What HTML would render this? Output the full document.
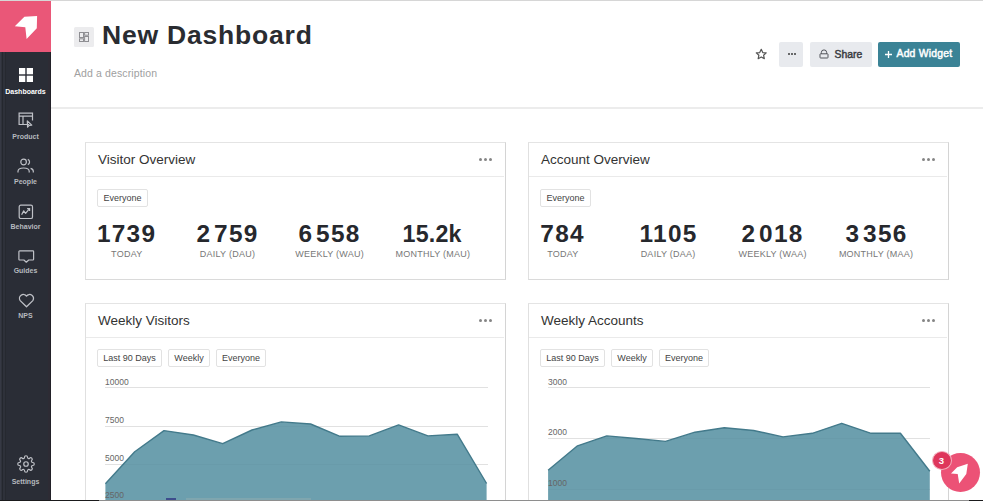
<!DOCTYPE html>
<html><head><meta charset="utf-8">
<style>
*{box-sizing:border-box;margin:0;padding:0}
html,body{width:983px;height:501px;overflow:hidden;background:#fff;font-family:"Liberation Sans",sans-serif;color:#333}
.abs{position:absolute}
#topline{position:absolute;left:0;top:0;width:983px;height:1px;background:#d6d6d6;z-index:5}
#botline{position:absolute;left:0;top:500px;width:983px;height:1px;background:linear-gradient(to right,#1a1a1c 0,#1a1a1c 99px,#8e8e8e 99px,#8e8e8e 969px,#1a1a1c 969px);z-index:20}
#side{position:absolute;left:0;top:0;width:51px;height:501px;background:linear-gradient(to right,#363944 0,#363944 1px,#2f323b 1px,#2f323b 2px,#24272e 2px,#24272e 3px,#2e313a 3px,#2e313a 5px,#262930 5px,#262930 6.5px,#2a2d36 6.5px,#2a2d36 48px,#2d2b34 48px,#2d2b34 50px,#222128 50px,#222128 51px)}
#logo{position:absolute;left:0;top:1px;width:51px;height:51px;background:#ea5778}
.nl{position:absolute;left:0;width:51px;text-align:center;font-size:7px;font-weight:bold;line-height:8px;color:#b6b9bf}
.nav{position:absolute;left:0;width:51px;text-align:center;font-size:7px;color:#b9bcc4;letter-spacing:0}
.nav svg{position:absolute}
.nav span{position:absolute;left:0;width:51px;text-align:center}
#hdr{position:absolute;left:51px;top:0;width:932px;height:109px;border-bottom:2px solid #ececec}
.title{position:absolute;left:102px;top:19.5px;font-size:26.5px;font-weight:bold;color:#2a2c31;letter-spacing:0.8px;white-space:nowrap}
.desc{position:absolute;left:74px;top:67.3px;font-size:10.5px;color:#a0a0a0;letter-spacing:0.12px;white-space:nowrap}
.btn{position:absolute;top:41.5px;height:25px;border-radius:2px}
.card{position:absolute;background:#fff;border:1px solid;border-color:#e4e4e4 #d4d4d4 #dadada #e0e0e0;border-radius:0}
.card .hd{position:absolute;left:0;top:0;right:1px;height:34px;border-bottom:1px solid #eaeaea}
.card .ttl{position:absolute;left:12px;top:9px;font-size:13.5px;color:#333;white-space:nowrap}
.dots{position:absolute;top:15.3px;width:14px;height:3px}
.dots i{position:absolute;top:0;width:3px;height:3px;border-radius:50%;background:#858585}
.tag{position:absolute;height:18px;border:1px solid #e2e2e2;border-radius:2px;font-size:9px;color:#444;line-height:16px;text-align:center;white-space:nowrap}
.stat{position:absolute;top:78px;width:100px;height:40px;text-align:center}
.stat .in{position:absolute;left:0;top:0;width:100px;text-align:center}
.stat b{display:block;font-size:23px;letter-spacing:1.2px;color:#26282d;line-height:26px;white-space:nowrap;margin-right:-1.2px;transform:scaleX(1.06);transform-origin:50% 50%}
.stat b u{display:inline-block;width:2.5px;text-decoration:none}
.stat s{display:block;position:relative;left:0.6px;text-decoration:none;font-size:9px;letter-spacing:0.25px;color:#777;line-height:12px;margin-top:0.5px;white-space:nowrap}
.ylab{position:absolute;font-size:8.5px;color:#666;white-space:nowrap;z-index:2}
.grido{position:absolute;height:1px;background:rgba(0,0,0,0.02);z-index:2}
.grid{position:absolute;height:1px;background:#e6e6e6}
</style></head><body>
<div id="topline"></div>
<div id="side">
  <div id="logo">
    <svg class="abs" style="left:0;top:0" width="51" height="51" viewBox="0 0 51 51"><polygon points="14.8,25.3 24.4,15.7 37.1,15.1 36.8,27.2 26.6,38.1 25.3,26.3" fill="#fff"/></svg>
  </div>
  <!-- Dashboards -->
  <svg class="abs" style="left:18.5px;top:68px" width="14" height="14" viewBox="0 0 14 14"><rect x="0" y="0" width="6.3" height="6.3" fill="#fff"/><rect x="7.7" y="0" width="6.3" height="6.3" fill="#fff"/><rect x="0" y="7.7" width="6.3" height="6.3" fill="#fff"/><rect x="7.7" y="7.7" width="6.3" height="6.3" fill="#fff"/></svg>
  <div class="nl" style="top:87.6px;color:#fff">Dashboards</div>
  <!-- Product -->
  <svg class="abs" style="left:18px;top:112px" width="16" height="16" viewBox="0 0 16 16" fill="none" stroke="#bfc1c7" stroke-width="1.2"><path d="M11 12.5H1.1V1.1H14.5V8.5M1.1 4.2H14.5M5 4.2V12.5"/><path d="M9.3 9L9.6 15.2L11.2 13.4L13.8 13.1Z" stroke-linejoin="round"/></svg>
  <div class="nl" style="top:133.3px">Product</div>
  <!-- People -->
  <svg class="abs" style="left:17px;top:158px" width="18" height="16" viewBox="0 0 18 16" fill="none" stroke="#bfc1c7" stroke-width="1.2"><circle cx="6.6" cy="4" r="2.8"/><path d="M10.8 1.4A2.8 2.8 0 0 1 10.8 6.6"/><path d="M1 14.5V13.2C1 11.4 2.8 10 6.6 10S12.2 11.4 12.2 13.2V14.5"/><path d="M13.6 10.4C15.3 10.9 16.3 12 16.3 13.2V14.5"/></svg>
  <div class="nl" style="top:178.3px">People</div>
  <!-- Behavior -->
  <svg class="abs" style="left:18px;top:203.5px" width="16" height="16" viewBox="0 0 16 16" fill="none" stroke="#bfc1c7" stroke-width="1.2"><rect x="1.2" y="1.2" width="13.3" height="13.3" rx="1.6"/><path d="M3.6 10.8L5.7 6.9L7.6 9.3L11.3 4.9" stroke-linejoin="round"/><path d="M9.1 4.6H11.6V7" /></svg>
  <div class="nl" style="top:223.2px">Behavior</div>
  <!-- Guides -->
  <svg class="abs" style="left:17.5px;top:249.5px" width="17" height="14" viewBox="0 0 17 14" fill="none" stroke="#bfc1c7" stroke-width="1.2" stroke-linejoin="round"><path d="M1.6 0.9H14.9A0.7 0.7 0 0 1 15.6 1.6V9.3A0.7 0.7 0 0 1 14.9 10H10.7L8.3 12.2L5.9 10H1.6A0.7 0.7 0 0 1 0.9 9.3V1.6A0.7 0.7 0 0 1 1.6 0.9Z"/></svg>
  <div class="nl" style="top:267.0px">Guides</div>
  <!-- NPS -->
  <svg class="abs" style="left:17.5px;top:292.5px" width="17" height="15" viewBox="0 0 17 15" fill="none" stroke="#bfc1c7" stroke-width="1.3" stroke-linejoin="round"><path d="M8.5 13.8L2.2 7.6A3.6 3.6 0 0 1 8.5 3.1A3.6 3.6 0 0 1 14.8 7.6Z"/></svg>
  <div class="nl" style="top:312.3px">NPS</div>
  <!-- Settings -->
  <svg class="abs" style="left:16.5px;top:455px" width="18" height="18" viewBox="0 0 24 24" fill="none" stroke="#bfc1c7" stroke-width="1.6"><circle cx="12" cy="12" r="3"/><path d="M19.4 15a1.650 1.650 0 0 0 .33 1.82l.06.06a2 2 0 0 1-2.830 2.830l-.06-.06a1.650 1.650 0 0 0-1.820-.33 1.650 1.650 0 0 0-1 1.510V21a2 2 0 0 1-4 0v-.09A1.650 1.650 0 0 0 9 19.400a1.650 1.650 0 0 0-1.820.33l-.06.06a2 2 0 0 1-2.830-2.830l.06-.06A1.650 1.650 0 0 0 4.680 15a1.650 1.650 0 0 0-1.510-1H3a2 2 0 0 1 0-4h.09A1.650 1.650 0 0 0 4.600 9a1.650 1.650 0 0 0-.33-1.820l-.06-.06a2 2 0 0 1 2.830-2.830l.06.06A1.650 1.650 0 0 0 9 4.680a1.650 1.650 0 0 0 1-1.510V3a2 2 0 0 1 4 0v.09a1.650 1.650 0 0 0 1 1.510 1.650 1.650 0 0 0 1.820-.33l.06-.06a2 2 0 0 1 2.830 2.830l-.06.06A1.650 1.650 0 0 0 19.400 9a1.650 1.650 0 0 0 1.510 1H21a2 2 0 0 1 0 4h-.09a1.650 1.650 0 0 0-1.510 1z"/></svg>
  <div class="nl" style="top:477.6px">Settings</div>
</div>
<div id="hdr"></div>
<div class="title">New Dashboard</div>
<div class="desc">Add a description</div>

<!-- header icon box -->
<div class="abs" style="left:74px;top:26.5px;width:20px;height:20px;background:#ececee;border-radius:1.5px">
  <svg class="abs" style="left:5.3px;top:5.5px" width="10" height="10" viewBox="0 0 10 10" fill="none" stroke="#8e8e92" stroke-width="1"><rect x="0.5" y="0.5" width="4" height="5"/><rect x="0.5" y="6.8" width="4" height="2.7"/><rect x="5.6" y="0.5" width="3.9" height="2.7"/><rect x="5.6" y="4.5" width="3.9" height="5"/></svg>
</div>
<!-- star -->
<svg class="abs" style="left:755px;top:47.6px" width="12.5" height="12.5" viewBox="0 0 24 24" fill="none" stroke="#555" stroke-width="2.3" stroke-linejoin="round"><path d="M12 2.5l2.9 6.2 6.6.7-5 4.5 1.4 6.6L12 17.2l-5.9 3.3 1.4-6.6-5-4.5 6.6-.7z"/></svg>
<!-- more button -->
<div class="btn" style="left:779px;width:24px;background:#e8eaee">
  <i class="abs" style="left:8.5px;top:11.5px;width:2px;height:2px;border-radius:50%;background:#3c3c3c"></i>
  <i class="abs" style="left:11.5px;top:11.5px;width:2px;height:2px;border-radius:50%;background:#3c3c3c"></i>
  <i class="abs" style="left:14.5px;top:11.5px;width:2px;height:2px;border-radius:50%;background:#3c3c3c"></i>
</div>
<!-- share -->
<div class="btn" style="left:810px;width:62px;background:#e8eaee">
  <svg class="abs" style="left:8.5px;top:7.5px" width="10" height="10" viewBox="0 0 10 10" fill="none" stroke="#4a4c52" stroke-width="0.95"><path d="M2.3 4.8V3.6A2.7 2.7 0 0 1 7.7 3.6V4.8"/><rect x="1" y="4.8" width="8" height="4.2" rx="0.6"/></svg>
  <span class="abs" style="left:24.5px;top:7.3px;font-size:10.4px;font-weight:normal;-webkit-text-stroke:0.45px #3a3c42;color:#3a3c42">Share</span>
</div>
<!-- add widget -->
<div class="btn" style="left:878px;width:82px;background:#3b8396">
  <svg class="abs" style="left:7px;top:9px" width="7" height="7" viewBox="0 0 7 7" stroke="#fff" stroke-width="1.3"><path d="M3.5 0V7M0 3.5H7"/></svg><span class="abs" style="left:18.5px;top:6.8px;font-size:10.4px;font-weight:normal;-webkit-text-stroke:0.45px #fff;color:#fff;white-space:nowrap;letter-spacing:0.2px">Add Widget</span>
</div>
<div class="card" style="left:85px;top:142px;width:421px;height:138px">
<div class="hd"><div class="ttl">Visitor Overview</div><div class="dots" style="left:393px"><i style="left:0"></i><i style="left:5px"></i><i style="left:10px"></i></div></div>
<div class="tag" style="left:11px;top:46px;width:51px">Everyone</div>
<div class="stat" style="left:-9.8px"><div class="in"><b>1739</b><s>TODAY</s></div></div>
<div class="stat" style="left:90.9px"><div class="in"><b>2<u></u>759</b><s>DAILY (DAU)</s></div></div>
<div class="stat" style="left:193.0px"><div class="in"><b>6<u></u>558</b><s>WEEKLY (WAU)</s></div></div>
<div class="stat" style="left:296.3px"><div class="in"><b style="letter-spacing:0.2px;margin-right:-0.2px;transform:scaleX(1.01)">15.2k</b><s>MONTHLY (MAU)</s></div></div>
</div>
<div class="card" style="left:528px;top:142px;width:421px;height:138px">
<div class="hd"><div class="ttl">Account Overview</div><div class="dots" style="left:393px"><i style="left:0"></i><i style="left:5px"></i><i style="left:10px"></i></div></div>
<div class="tag" style="left:11px;top:46px;width:51px">Everyone</div>
<div class="stat" style="left:-16.7px"><div class="in"><b>784</b><s>TODAY</s></div></div>
<div class="stat" style="left:88.5px"><div class="in"><b>1105</b><s>DAILY (DAA)</s></div></div>
<div class="stat" style="left:193.0px"><div class="in"><b>2<u></u>018</b><s>WEEKLY (WAA)</s></div></div>
<div class="stat" style="left:296.5px"><div class="in"><b>3<u></u>356</b><s>MONTHLY (MAA)</s></div></div>
</div>
<div class="card" style="left:85px;top:303px;width:421px;height:210px">
<div class="hd"><div class="ttl">Weekly Visitors</div><div class="dots" style="left:393px"><i style="left:0"></i><i style="left:5px"></i><i style="left:10px"></i></div></div>
<div class="tag" style="left:11px;top:45px;width:65px">Last 90 Days</div>
<div class="tag" style="left:82px;top:45px;width:42px">Weekly</div>
<div class="tag" style="left:130px;top:45px;width:50px">Everyone</div>
</div>
<svg class="abs" style="left:0;top:0;z-index:1" width="983" height="501"><polygon points="105.4,483.8 134.7,451.8 164.0,430.6 193.4,435.0 222.7,443.7 252.0,430.0 281.3,421.9 310.6,424.0 340.0,436.3 369.3,435.9 398.6,424.9 427.9,435.9 457.2,434.2 486.6,483.5 486.6,520 105.4,520" fill="#6c9fae"/><polyline points="105.4,483.8 134.7,451.8 164.0,430.6 193.4,435.0 222.7,443.7 252.0,430.0 281.3,421.9 310.6,424.0 340.0,436.3 369.3,435.9 398.6,424.9 427.9,435.9 457.2,434.2 486.6,483.5" fill="none" stroke="#437a8b" stroke-width="1.4" stroke-linejoin="round"/></svg>
<div class="card" style="left:528px;top:303px;width:421px;height:210px">
<div class="hd"><div class="ttl">Weekly Accounts</div><div class="dots" style="left:393px"><i style="left:0"></i><i style="left:5px"></i><i style="left:10px"></i></div></div>
<div class="tag" style="left:11px;top:45px;width:65px">Last 90 Days</div>
<div class="tag" style="left:82px;top:45px;width:42px">Weekly</div>
<div class="tag" style="left:130px;top:45px;width:50px">Everyone</div>
</div>
<svg class="abs" style="left:0;top:0;z-index:1" width="983" height="501"><polygon points="548.1,470.2 577.5,445.8 606.8,435.9 636.2,438.5 665.5,441.4 694.9,432.2 724.3,427.8 753.6,430.5 783.0,436.9 812.3,433.3 841.7,423.3 871.1,433.3 900.4,433.3 929.8,471.2 929.8,520 548.1,520" fill="#6c9fae"/><polyline points="548.1,470.2 577.5,445.8 606.8,435.9 636.2,438.5 665.5,441.4 694.9,432.2 724.3,427.8 753.6,430.5 783.0,436.9 812.3,433.3 841.7,423.3 871.1,433.3 900.4,433.3 929.8,471.2" fill="none" stroke="#437a8b" stroke-width="1.4" stroke-linejoin="round"/></svg>


<div class="grid" style="left:105px;top:387px;width:383px"></div>
<div class="grido" style="left:105px;top:387px;width:383px"></div>
<div class="grid" style="left:105px;top:426px;width:383px"></div>
<div class="grido" style="left:105px;top:426px;width:383px"></div>
<div class="grid" style="left:105px;top:464px;width:383px"></div>
<div class="grido" style="left:105px;top:464px;width:383px"></div>
<div class="grid" style="left:548px;top:387px;width:382px"></div>
<div class="grido" style="left:548px;top:387px;width:382px"></div>
<div class="grid" style="left:548px;top:438px;width:382px"></div>
<div class="grido" style="left:548px;top:438px;width:382px"></div>
<div class="grid" style="left:548px;top:489px;width:382px"></div>
<div class="grido" style="left:548px;top:489px;width:382px"></div>
<div class="ylab" style="left:105px;top:377px">10000</div>
<div class="ylab" style="left:105px;top:415.2px">7500</div>
<div class="ylab" style="left:105px;top:453.2px">5000</div>
<div class="ylab" style="left:105px;top:490px">2500</div>
<div class="ylab" style="left:548px;top:377.2px">3000</div>
<div class="ylab" style="left:548px;top:427.2px">2000</div>
<div class="ylab" style="left:548px;top:478.4px">1000</div>
<div class="abs" style="left:166px;top:498px;width:10px;height:2px;background:#3d4d8c;z-index:3"></div>
<div class="abs" style="left:186px;top:498px;width:125px;height:2px;background:#7fa6af;z-index:3"></div>
<!-- pendo badge -->
<div class="abs" style="left:940.5px;top:453px;width:39px;height:39px;border-radius:50%;background:#ec5276;z-index:10">
  <svg class="abs" style="left:0;top:0" width="40" height="40" viewBox="0 0 40 40"><polygon points="10,20.4 16.2,14.2 26.8,10.8 25.3,20.9 18.2,30.4 16.7,20.9" fill="#fff"/></svg>
</div>
<div class="abs" style="left:931.5px;top:451px;width:20px;height:19px;border-radius:50%;background:#de365b;border:1px solid #f3b0bd;z-index:11;color:#fff;font-size:9.5px;font-weight:bold;text-align:center;line-height:17px">3</div>
<div id="botline"></div>
</body></html>
